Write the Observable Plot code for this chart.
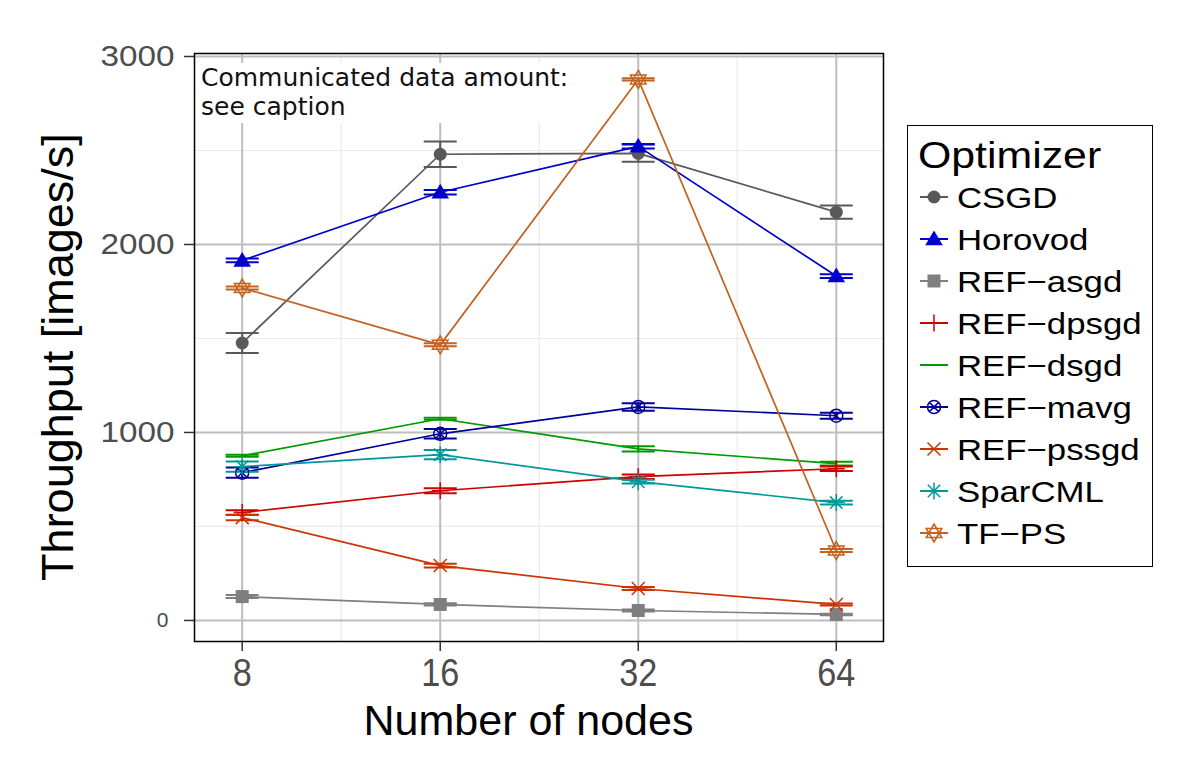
<!DOCTYPE html>
<html><head><meta charset="utf-8">
<script src="https://cdn.jsdelivr.net/npm/d3@7"></script>
<script src="https://cdn.jsdelivr.net/npm/@observablehq/plot@0.6"></script>
<style>
body{margin:0;background:#fff;}
#wrap{position:relative;width:1188px;height:782px;overflow:hidden;font-family:"Liberation Sans",Arial,sans-serif;}
#wrap svg{position:absolute;left:0;top:0;}
.note{position:absolute;left:196px;top:63px;width:384px;height:60px;background:#fff;font-family:"DejaVu Sans",sans-serif;font-size:25px;line-height:29px;color:#111;padding-left:5px;box-sizing:border-box;}
.xtitle{position:absolute;left:0;width:1057px;top:697px;text-align:center;font-size:43px;line-height:46px;color:#000;}
.ytitle{position:absolute;left:58px;top:357px;transform:translate(-50%,-50%) rotate(-90deg);white-space:nowrap;font-size:45px;line-height:46px;color:#000;}
.legend{position:absolute;left:907px;top:125px;width:246px;height:442px;border:1.5px solid #000;box-sizing:border-box;background:#fff;}
</style></head><body><div id="wrap"></div>
<script>
// ---- data ----
const nodes = [8, 16, 32, 64];
const optimizers = ["CSGD","Horovod","REF-asgd","REF-dpsgd","REF-dsgd","REF-mavg","REF-pssgd","SparCML","TF-PS"];
const legendLabels = ["CSGD","Horovod","REF\u2212asgd","REF\u2212dpsgd","REF\u2212dsgd","REF\u2212mavg","REF\u2212pssgd","SparCML","TF\u2212PS"];
const csgd = [1476, 2480, 2485, 2172];
const csgdErr = [53, 68, 45, 35];
const horovod = [1915, 2278, 2522, 1832];
const horovodErr = [10, 12, 12, 10];
const refAsgd = [127, 85, 53, 32];
const refAsgdErr = [8, 6, 5, 4];
const refDpsgd = [574, 690, 765, 807];
const refDpsgdErr = [12, 13, 12, 12];
const refDsgd = [876, 1073, 913, 834];
const refDsgdErr = [5, 5, 14, 10];
const refMavg = [786, 993, 1136, 1089];
const refMavgErr = [27, 25, 20, 16];
const refPssgd = [547, 292, 170, 85];
const refPssgdErr = [14, 10, 8, 5];
const sparcml = [818, 882, 738, 627];
const sparcmlErr = [27, 25, 10, 10];
const tfps = [1768, 1466, 2878, 372];
const tfpsErr = [8, 8, 6, 8];
const colors = ["#595959","#0000CC","#7F7F7F","#CC0000","#009900","#000099","#CC3300","#009999","#C46220"];
const yTicks = [0, 1000, 2000, 3000];
const yMinor = [500, 1500, 2500];
const xMinor = [11.31, 22.63, 45.25];

const values = [csgd, horovod, refAsgd, refDpsgd, refDsgd, refMavg, refPssgd, sparcml, tfps];
const errs = [csgdErr, horovodErr, refAsgdErr, refDpsgdErr, refDsgdErr, refMavgErr, refPssgdErr, sparcmlErr, tfpsErr];

const rows = [];
optimizers.forEach((opt, i) => nodes.forEach((n, j) => rows.push({
  opt, nodes: n, v: values[i][j], lo: values[i][j] - errs[i][j], hi: values[i][j] + errs[i][j]
})));

// ---- symbols (pixel-sized) ----
const sym = fn => ({draw(c){ fn(c); }});
const drawCircle = (c, r) => { c.moveTo(r, 0); c.arc(0, 0, r, 0, 2 * Math.PI); };
const drawTimes = (c, a) => { c.moveTo(-a, -a); c.lineTo(a, a); c.moveTo(-a, a); c.lineTo(a, -a); };
const drawPlus = (c, a) => { c.moveTo(-a, 0); c.lineTo(a, 0); c.moveTo(0, -a); c.lineTo(0, a); };
const symbols = {
  "CSGD": {s: sym(c => drawCircle(c, 6.5)), filled: true},
  "Horovod": {s: sym(c => { c.moveTo(0, -8.5); c.lineTo(8.8, 6.2); c.lineTo(-8.8, 6.2); c.closePath(); }), filled: true},
  "REF-asgd": {s: sym(c => c.rect(-6.5, -6.5, 13, 13)), filled: true},
  "REF-dpsgd": {s: sym(c => drawPlus(c, 8.5)), filled: false},
  "REF-dsgd": null,
  "REF-mavg": {s: sym(c => { drawCircle(c, 6.5); drawTimes(c, 4.6); }), filled: false},
  "REF-pssgd": {s: sym(c => drawTimes(c, 6.5)), filled: false},
  "SparCML": {s: sym(c => { drawPlus(c, 8.5); drawTimes(c, 6.2); }), filled: false},
  "TF-PS": {s: sym(c => {
    c.moveTo(0, -9); c.lineTo(7.8, 4.5); c.lineTo(-7.8, 4.5); c.closePath();
    c.moveTo(0, 9); c.lineTo(7.8, -4.5); c.lineTo(-7.8, -4.5); c.closePath();
  }), filled: false}
};
const capSym = sym(c => { c.moveTo(-16.5, 0); c.lineTo(16.5, 0); });

const pointMarks = optimizers.filter(o => symbols[o]).map(o => {
  const d = rows.filter(r => r.opt === o);
  const s = symbols[o];
  return s.filled
    ? Plot.dot(d, {x: "nodes", y: "v", symbol: s.s, fill: "opt", stroke: "none"})
    : Plot.dot(d, {x: "nodes", y: "v", symbol: s.s, stroke: "opt", fill: "none", strokeWidth: 1.5});
});

const svg = Plot.plot({
  width: 1188, height: 782,
  marginLeft: 194, marginRight: 305, marginTop: 53, marginBottom: 141,
  x: {type: "log", base: 2, domain: [6.77, 75.5]},
  y: {domain: [-112, 3016]},
  color: {domain: optimizers, range: colors},
  marks: [
    Plot.ruleX(xMinor, {stroke: "#ebebeb", strokeWidth: 1.2}),
    Plot.ruleY(yMinor, {stroke: "#ebebeb", strokeWidth: 1.2}),
    Plot.ruleX(nodes, {stroke: "#bebebe", strokeWidth: 2}),
    Plot.ruleY(yTicks, {stroke: "#bebebe", strokeWidth: 2}),
    Plot.line(rows, {x: "nodes", y: "v", z: "opt", stroke: "opt", strokeWidth: 1.7}),
    Plot.ruleX(rows, {x: "nodes", y1: "lo", y2: "hi", stroke: "opt", strokeWidth: 2}),
    Plot.dot(rows, {x: "nodes", y: "lo", symbol: capSym, stroke: "opt", fill: "none", strokeWidth: 2}),
    Plot.dot(rows, {x: "nodes", y: "hi", symbol: capSym, stroke: "opt", fill: "none", strokeWidth: 2}),
    ...pointMarks,
    Plot.axisX({ticks: nodes, tickFormat: d => String(d), tickSize: 10, tickPadding: 8, label: null, stroke: "#333", strokeWidth: 1.5}),
    Plot.axisY({ticks: yTicks, tickFormat: d => String(d), tickSize: 10, tickPadding: 10, label: null, stroke: "#333", strokeWidth: 1.5}),
    Plot.frame({stroke: "#000", strokeWidth: 1.5})
  ]
});

const wrap = document.getElementById("wrap");
wrap.appendChild(svg);

// style tick labels
d3.select(svg).selectAll('g[aria-label="x-axis tick label"] text').each(function(){
  const t = d3.select(this);
  t.style("font-size", "38px").style("font-family", '"Liberation Sans",Arial,sans-serif').attr("fill", "#4d4d4d");
  t.attr("transform", t.attr("transform") + " scale(0.9,1)");
});
d3.select(svg).selectAll('g[aria-label="y-axis tick label"] text').each(function(){
  const t = d3.select(this);
  const isZero = t.text() === "0";
  t.style("font-size", isZero ? "21px" : "30px").style("font-family", '"Liberation Sans",Arial,sans-serif').attr("fill", "#4d4d4d");
  t.attr("transform", t.attr("transform") + (isZero ? " translate(-6,0)" : " scale(1.11,1)"));
});

// annotation
const note = document.createElement("div");
note.className = "note";
note.innerHTML = "Communicated data amount:<br>see caption";
wrap.appendChild(note);

// axis titles
const xt = document.createElement("div"); xt.className = "xtitle"; xt.textContent = "Number of nodes"; wrap.appendChild(xt);
const yt = document.createElement("div"); yt.className = "ytitle"; yt.textContent = "Throughput [images/s]"; wrap.appendChild(yt);

// legend
const leg = document.createElement("div"); leg.className = "legend"; wrap.appendChild(leg);
const lsvg = d3.select(leg).append("svg").attr("width", 246).attr("height", 442).style("position", "absolute").style("left", "-1.5px").style("top", "-1.5px");
lsvg.append("text").attr("x", 11).attr("y", 43).text("Optimizer")
  .style("font-size", "36px").attr("fill", "#000").attr("transform", "translate(11,0) scale(1.19,1) translate(-11,0)");
optimizers.forEach((o, i) => {
  const cy = 72 + i * 42;
  const g = lsvg.append("g");
  g.append("line").attr("x1", 13).attr("x2", 41).attr("y1", cy).attr("y2", cy).attr("stroke", colors[i]).attr("stroke-width", 2);
  const s = symbols[o];
  if (s) {
    const p = d3.path(); s.s.draw(p);
    g.append("path").attr("d", p.toString()).attr("transform", `translate(27,${cy})`)
      .attr("fill", s.filled ? colors[i] : "none").attr("stroke", s.filled ? "none" : colors[i]).attr("stroke-width", 1.5);
  }
  g.append("text").attr("x", 50).attr("y", cy + 11).text(legendLabels[i])
    .style("font-size", "30px").attr("fill", "#000").attr("transform", "translate(50,0) scale(1.16,1) translate(-50,0)");
});
</script>
</body></html>
